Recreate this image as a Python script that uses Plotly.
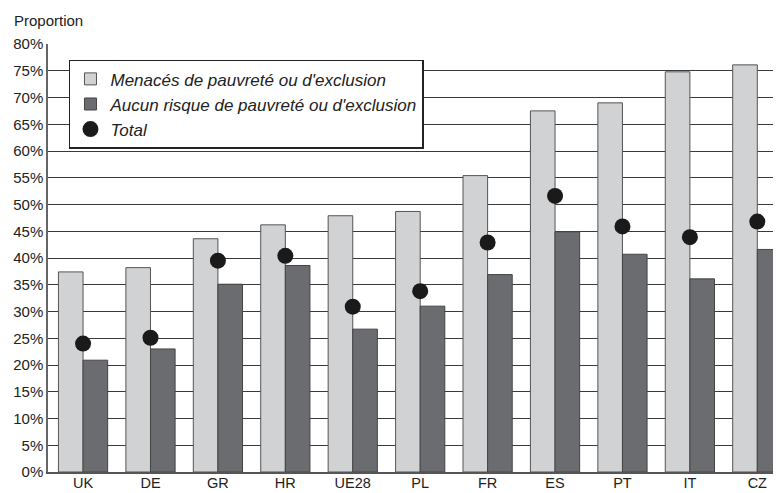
import plotly.graph_objects as go

categories = ["UK", "DE", "GR", "HR", "UE28", "PL", "FR", "ES", "PT", "IT", "CZ"]
menaces = [37.4, 38.2, 43.6, 46.2, 47.9, 48.7, 55.4, 67.5, 69.0, 74.8, 76.1]
aucun = [20.9, 23.0, 35.1, 38.6, 26.7, 31.0, 36.9, 44.9, 40.7, 36.1, 41.6]
total = [24.0, 25.1, 39.5, 40.4, 30.9, 33.8, 42.9, 51.6, 45.9, 43.9, 46.8]
y_ticks = list(range(0, 81, 5))
y_tick_labels = [f"{v}%" for v in y_ticks]

FONT = "Liberation Sans, Arial, Helvetica, sans-serif"

fig = go.Figure()
fig.add_trace(go.Bar(
    x=categories, y=menaces, name="Menacés de pauvreté ou d'exclusion",
    marker=dict(color="#d1d2d4", line=dict(color="#555555", width=1)),
))
fig.add_trace(go.Bar(
    x=categories, y=aucun, name="Aucun risque de pauvreté ou d'exclusion",
    marker=dict(color="#6b6c70", line=dict(color="#444444", width=1)),
))
fig.add_trace(go.Scatter(
    x=categories, y=total, name="Total", mode="markers",
    marker=dict(color="#1a1a1a", size=16, line=dict(color="#1a1a1a", width=0)),
))

fig.update_layout(
    width=781, height=493,
    margin=dict(l=40, r=0, t=36, b=29),
    paper_bgcolor="white", plot_bgcolor="white",
    font=dict(family=FONT, size=15, color="#222222"),
    barmode="group", bargap=0.27, bargroupgap=0,
    showlegend=True,
    legend=dict(
        x=0.0283, y=0.963, xanchor="left", yanchor="top",
        bgcolor="white", bordercolor="#222222", borderwidth=1.5,
        font=dict(family=FONT, size=17, color="#222222", style="italic"),
        itemwidth=30, tracegroupgap=0,
    ),
    xaxis=dict(
        type="category", range=[-0.52, 10.47],
        showgrid=False, showline=True, linecolor="#555555", linewidth=1.5,
        ticks="", tickfont=dict(size=14.5, color="#222222"),
        ticklabelstandoff=-3,
    ),
    yaxis=dict(
        range=[0, 80], tickvals=y_ticks, ticktext=y_tick_labels,
        showgrid=True, gridcolor="#3a3a3a", gridwidth=1.3,
        showline=True, linecolor="#666666", linewidth=1.5,
        ticks="", ticklen=0, tickfont=dict(size=15, color="#222222"),
        zeroline=False,
    ),
    annotations=[dict(
        text="Proportion", xref="paper", yref="paper", x=-0.0486, y=1.056,
        xanchor="left", yanchor="middle", showarrow=False,
        font=dict(family=FONT, size=15, color="#222222"),
    )],
)

fig.write_html("out.html")
